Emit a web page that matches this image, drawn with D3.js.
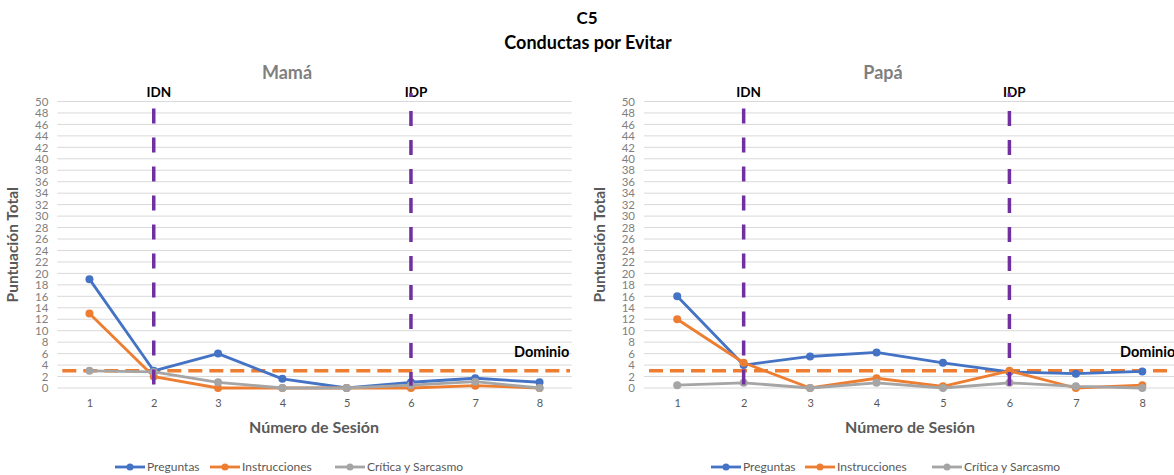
<!DOCTYPE html>
<html>
<head>
<meta charset="utf-8">
<script src="https://cdn.jsdelivr.net/npm/d3@7"></script>
<style>
  html, body { margin: 0; padding: 0; background: #fff; overflow: hidden; }
  svg { display: block; font-family: Lato, "Open Sans", sans-serif; }
</style>
</head>
<body>
<svg id="chart" width="1174" height="475"></svg>
<script>
// Sessions and tick values
const sessions = [1, 2, 3, 4, 5, 6, 7, 8];
const yTicks = d3.range(0, 51, 2);
const seriesNames = ["Preguntas", "Instrucciones", "Crítica y Sarcasmo"];
const seriesColors = ["#4472C4", "#ED7D31", "#A5A5A5"];

// Mamá
const mamaPreguntas     = [19, 3, 6, 1.6, 0, 1, 1.7, 1];
const mamaInstrucciones = [13, 2, 0, 0, 0, 0, 0.4, 0];
const mamaCritica       = [3, 2.8, 1, 0, 0, 0.5, 1.1, 0];

// Papá
const papaPreguntas     = [16, 4, 5.5, 6.2, 4.4, 2.8, 2.5, 2.9];
const papaInstrucciones = [12, 4.4, 0, 1.7, 0.3, 3, 0, 0.5];
const papaCritica       = [0.5, 0.9, 0, 0.9, 0, 0.9, 0.3, 0];

// Phase changes and mastery criterion
const phaseLabels = ["IDN", "IDP"];
const phaseSessions = [2, 6];
const dominioValue = 3;

const svg = d3.select("#chart");

svg.append("text").attr("x", 587).attr("y", 24).attr("text-anchor", "middle")
  .attr("font-size", 17).attr("font-weight", "bold").attr("fill", "#000").text("C5");
svg.append("text").attr("x", 588).attr("y", 49).attr("text-anchor", "middle")
  .attr("font-size", 18).attr("font-weight", "bold").attr("fill", "#000").text("Conductas por Evitar");

function panel(opts) {
  const g = svg.append("g");
  const x = d3.scalePoint().domain(sessions).range([opts.left, opts.right]).padding(0.5);
  const y = d3.scaleLinear().domain([0, 50]).range([388, 101.5]);

  // horizontal gridlines
  g.append("g").selectAll("line").data(yTicks).join("line")
    .attr("x1", opts.left).attr("x2", opts.right)
    .attr("y1", d => y(d)).attr("y2", d => y(d))
    .attr("stroke", "#d9d9d9").attr("stroke-width", 1);

  // y axis
  const ya = g.append("g").attr("transform", `translate(${opts.left - 9},0)`)
    .call(d3.axisLeft(y).tickValues(yTicks).tickSize(0).tickPadding(0));
  ya.select(".domain").remove();
  ya.selectAll("text").attr("fill", "#7f7f7f").attr("font-size", 11.5)
    .attr("font-family", "Lato, sans-serif");

  // x axis
  const xa = g.append("g").attr("transform", `translate(0,${y(0) + 11})`)
    .call(d3.axisBottom(x).tickSize(0).tickPadding(0));
  xa.select(".domain").remove();
  xa.selectAll("text").attr("fill", "#595959").attr("font-size", 11)
    .attr("font-family", "Lato, sans-serif");

  // titles
  g.append("text").attr("x", opts.titleX).attr("y", 79).attr("text-anchor", "middle")
    .attr("font-size", 18).attr("font-weight", "bold").attr("fill", "#7f7f7f").text(opts.title);
  g.append("text").attr("transform", `translate(${opts.left - 39},${y(25)}) rotate(-90)`)
    .attr("text-anchor", "middle").attr("font-size", 15.5).attr("font-weight", "bold")
    .attr("fill", "#595959").text("Puntuación Total");
  g.append("text").attr("x", opts.xTitleX).attr("y", 433).attr("text-anchor", "middle")
    .attr("font-size", 16).attr("font-weight", "bold").attr("fill", "#595959").text("Número de Sesión");

  // mastery line
  g.append("line").attr("x1", opts.left + 5).attr("x2", opts.domRight)
    .attr("y1", y(dominioValue)).attr("y2", y(dominioValue))
    .attr("stroke", "#ED7D31").attr("stroke-width", 3.5).attr("stroke-dasharray", "14,7");
  g.append("text").attr("x", opts.domLabelX).attr("y", 357).attr("text-anchor", "start")
    .attr("font-size", 14.5).attr("font-weight", "bold").attr("fill", "#000").text("Dominio");

  // series
  const line = d3.line().x((d, i) => x(sessions[i])).y(d => y(d));
  opts.series.forEach((vals, si) => {
    g.append("path").datum(vals).attr("d", line).attr("fill", "none")
      .attr("stroke", seriesColors[si]).attr("stroke-width", 2.8).attr("stroke-linejoin", "round");
    g.append("g").selectAll("circle").data(vals).join("circle")
      .attr("cx", (d, i) => x(sessions[i])).attr("cy", d => y(d)).attr("r", 4)
      .attr("fill", seriesColors[si]);
  });

  // phase lines (the second one reaches up through its label)
  phaseSessions.forEach((s, i) => {
    g.append("text").attr("x", x(s) + 5).attr("y", 97).attr("text-anchor", "middle")
      .attr("font-size", 13.5).attr("font-weight", "bold").attr("fill", "#000").text(phaseLabels[i]);
    g.append("line").attr("x1", x(s)).attr("x2", x(s))
      .attr("y1", i === 0 ? y(48.8) : y(51.5)).attr("y2", y(0.4))
      .attr("stroke", "#7030A0").attr("stroke-width", 3.5)
      .attr("stroke-dasharray", "15,14")
      .attr("stroke-dashoffset", i === 0 ? 0 : 11);
  });

  // legend
  const lg = g.append("g").attr("transform", `translate(0,467)`);
  opts.legendX.forEach((lx, i) => {
    lg.append("line").attr("x1", lx).attr("x2", lx + 30).attr("y1", 0).attr("y2", 0)
      .attr("stroke", seriesColors[i]).attr("stroke-width", 2.8);
    lg.append("circle").attr("cx", lx + 15).attr("cy", 0).attr("r", 3.5).attr("fill", seriesColors[i]);
    lg.append("text").attr("x", lx + 32).attr("y", 4).attr("font-size", 12)
      .attr("fill", "#595959").text(seriesNames[i]);
  });
}

panel({
  left: 57.3, right: 571.7, title: "Mamá", titleX: 287, xTitleX: 314,
  domRight: 570, domLabelX: 514,
  series: [mamaPreguntas, mamaInstrucciones, mamaCritica],
  legendX: [115, 210, 335]
});
panel({
  left: 644, right: 1175.5, title: "Papá", titleX: 883, xTitleX: 910,
  domRight: 1174, domLabelX: 1120,
  series: [papaPreguntas, papaInstrucciones, papaCritica],
  legendX: [711, 805, 932]
});
</script>
</body>
</html>
